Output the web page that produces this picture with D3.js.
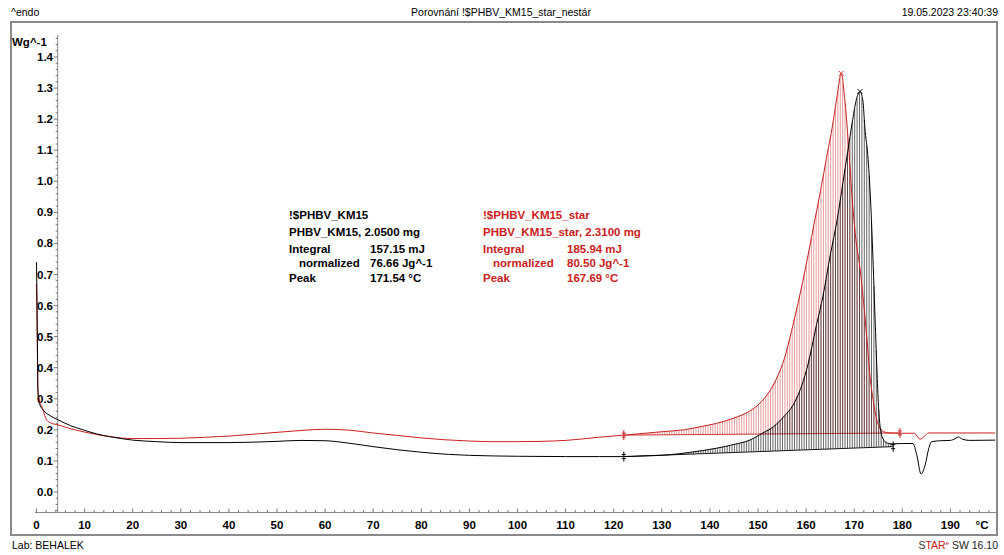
<!DOCTYPE html>
<html><head><meta charset="utf-8">
<script src="https://cdn.jsdelivr.net/npm/d3@7/dist/d3.min.js"></script>
<style>body{margin:0;background:#fff;overflow:hidden} text{font-family:"Liberation Sans",Arial,sans-serif}</style>
</head><body><svg id="c" width="1004" height="555"></svg>
<script>
// ---- data (temperature °C, heat flow Wg^-1) ----
const blackT=[0,0.15,0.3,0.6,1.4,3,4.5,7,9.7,12.5,15.3,20,25,30,40,50,55,60,65,70,75,80,85.7,90,100,110,117,122,126,131,136,141.4,145,148.3,151,153.2,155.5,157.3,158.8,160.1,162.2,163.5,165,166.5,167.7,168.7,169.6,170.4,171.2,171.8,172.2,172.9,173.4,173.9,174.4,175.1,175.8,176.9,178,180,182.2,183,183.9,184.8,185.5,186.1,188,190,191,191.7,192.5,194,199.3];
const blackV=[0.74,0.55,0.32,0.285,0.264,0.244,0.232,0.214,0.2,0.187,0.178,0.167,0.162,0.159,0.159,0.163,0.166,0.165,0.157,0.146,0.136,0.128,0.121,0.118,0.115,0.114,0.114,0.114,0.116,0.119,0.128,0.141,0.153,0.167,0.19,0.21,0.245,0.28,0.33,0.393,0.54,0.63,0.76,0.88,1.0,1.1,1.19,1.26,1.289,1.26,1.176,1.069,0.94,0.75,0.532,0.264,0.178,0.157,0.155,0.156,0.156,0.12,0.058,0.09,0.14,0.162,0.165,0.166,0.172,0.177,0.17,0.166,0.167];
const redT=[0,0.15,0.3,0.7,1.1,2.1,3,4.5,7,9.7,12.5,15.3,20,25,30,35,40,45,50,55,60,65,70,75,80,85,90,95,100,105,110,116.8,122.1,125,130,134.5,138,141.4,145,148,150,152,154,155.5,157,158.5,160,161.5,163,164.3,165.5,166.5,167.3,168,168.8,169.5,170.3,171.2,171.9,172.6,173.3,174,174.7,175.4,176.1,177.5,180,182.5,183.7,184.5,185.5,190,199.3];
const redV=[0.67,0.5,0.33,0.29,0.275,0.232,0.222,0.216,0.204,0.194,0.185,0.178,0.172,0.172,0.173,0.176,0.18,0.186,0.192,0.198,0.202,0.199,0.19,0.182,0.174,0.168,0.164,0.162,0.162,0.163,0.166,0.176,0.183,0.187,0.194,0.2,0.21,0.221,0.238,0.258,0.28,0.315,0.37,0.43,0.52,0.62,0.73,0.85,0.97,1.08,1.18,1.28,1.347,1.27,1.12,0.96,0.82,0.72,0.62,0.5,0.37,0.29,0.232,0.205,0.194,0.19,0.189,0.189,0.17,0.178,0.19,0.19,0.19];
// integration limits / baselines [tStart, vStart, tEnd, vEnd]
const blackBase=[122.1,0.114,178.1,0.146];
const redBase=[122.1,0.183,179.5,0.19];
const blackPeak=[171.2,1.289], redPeak=[167.3,1.347];
const xTickLabels=[0,10,20,30,40,50,60,70,80,90,100,110,120,130,140,150,160,170,180,190];
const yTickLabels=["0.0","0.1","0.2","0.3","0.4","0.5","0.6","0.7","0.8","0.9","1.0","1.1","1.2","1.3","1.4"];
const blackInfo=[["!$PHBV_KM15",""],["PHBV_KM15, 2.0500 mg",""],["Integral","157.15 mJ"],["  normalized","76.66 Jg^-1"],["Peak","171.54 °C"]];
const redInfo=[["!$PHBV_KM15_star",""],["PHBV_KM15_star, 2.3100 mg",""],["Integral","185.94 mJ"],["  normalized","80.50 Jg^-1"],["Peak","167.69 °C"]];

const RED="#cc2020", AX="#8c8c8c";
const svg=d3.select("#c");
const x=d3.scaleLinear().domain([0,200]).range([36.5,998.5]);
const y=d3.scaleLinear().domain([0,1.4]).range([492,57]);

// frame
svg.append("rect").attr("x",11).attr("y",22).attr("width",986).attr("height",513)
  .attr("fill","none").attr("stroke","#8a8a8a").attr("stroke-width",2);

// header & footer
svg.append("text").attr("x",11).attr("y",16).attr("font-size",10.5).text("^endo");
svg.append("text").attr("x",501).attr("y",16).attr("font-size",10.5).attr("text-anchor","middle").text("Porovnání !$PHBV_KM15_star_nestár");
svg.append("text").attr("x",998).attr("y",16).attr("font-size",10.5).attr("text-anchor","end").text("19.05.2023 23:40:39");
svg.append("text").attr("x",12).attr("y",549).attr("font-size",10.5).text("Lab: BEHALEK");
const ft=svg.append("text").attr("x",998).attr("y",549).attr("font-size",10.5).attr("text-anchor","end");
ft.append("tspan").attr("fill","#333").text("S");
ft.append("tspan").attr("fill",RED).text("TAR");
ft.append("tspan").attr("fill",RED).attr("font-size",6).attr("dy",-4).text("e");
ft.append("tspan").attr("fill","#222").attr("dy",4).text(" SW 16.10");

// axes
const yAxisX=57.7, xAxisY=512.5;
svg.append("line").attr("x1",35).attr("x2",997).attr("y1",xAxisY).attr("y2",xAxisY).attr("stroke",AX);
svg.append("line").attr("x1",yAxisX).attr("x2",yAxisX).attr("y1",35).attr("y2",xAxisY).attr("stroke",AX);
for(let t=0;t<=198;t+=2){
  const maj=t%10===0;
  svg.append("line").attr("x1",x(t)).attr("x2",x(t)).attr("y1",xAxisY).attr("y2",xAxisY-(maj?4:2.5)).attr("stroke","#555").attr("stroke-width",0.8);
}
xTickLabels.forEach(t=>svg.append("text").attr("x",x(t)).attr("y",529).attr("font-size",11.5).attr("font-weight","bold").attr("text-anchor","middle").text(t));
svg.append("text").attr("x",982).attr("y",529).attr("font-size",11.5).attr("font-weight","bold").attr("text-anchor","middle").text("°C");
for(let i=-3;i<=73;i++){
  const v=i*0.02, maj=i%5===0;
  svg.append("line").attr("x1",yAxisX).attr("x2",yAxisX-(maj?4:2)).attr("y1",y(v)).attr("y2",y(v)).attr("stroke","#555").attr("stroke-width",0.8);
}
yTickLabels.forEach(s=>svg.append("text").attr("x",53).attr("y",y(+s)+4).attr("font-size",11.5).attr("font-weight","bold").attr("text-anchor","end").text(s));
svg.append("text").attr("x",12).attr("y",46).attr("font-size",11.5).attr("font-weight","bold").text("Wg^-1");

// helpers
function interp(T,V,t){const i=d3.bisectRight(T,t);if(i<=0)return V[0];if(i>=T.length)return V[V.length-1];const f=(t-T[i-1])/(T[i]-T[i-1]);return V[i-1]+f*(V[i]-V[i-1]);}
function base(b,t){return b[1]+(t-b[0])/(b[2]-b[0])*(b[3]-b[1]);}
function hatch(T,V,b,col,op){
  const g=svg.append("g");
  for(let t=b[0];t<=b[2];t+=0.5){
    const v=interp(T,V,t), bv=base(b,t);
    if(v>bv) g.append("line").attr("x1",x(t)).attr("x2",x(t)).attr("y1",y(bv)).attr("y2",y(v)).attr("stroke",col).attr("stroke-width",0.8).attr("opacity",op);
  }
  svg.append("line").attr("x1",x(b[0])).attr("x2",x(b[2])).attr("y1",y(b[1])).attr("y2",y(b[3])).attr("stroke",col).attr("stroke-width",0.9);
}
function mark(t,v,col){
  const g=svg.append("g").attr("stroke",col).attr("stroke-width",1);
  g.append("line").attr("x1",x(t)).attr("x2",x(t)).attr("y1",y(v)-5).attr("y2",y(v)+5);
  g.append("line").attr("x1",x(t)-2).attr("x2",x(t)+2).attr("y1",y(v)-2).attr("y2",y(v)-2);
  g.append("line").attr("x1",x(t)-2).attr("x2",x(t)+2).attr("y1",y(v)+2).attr("y2",y(v)+2);
}
function peak(p,col){
  const cx=x(p[0]),cy=y(p[1]);
  svg.append("path").attr("d",`M${cx-2.5},${cy-2.5}L${cx+2.5},${cy+2.5}M${cx-2.5},${cy+2.5}L${cx+2.5},${cy-2.5}`).attr("stroke",col).attr("stroke-width",0.9);
}

hatch(redT,redV,redBase,RED,0.55);
hatch(blackT,blackV,blackBase,"#000",0.75);

const line=d3.line().curve(d3.curveMonotoneX);
svg.append("path").attr("d",line(redT.map((t,i)=>[x(t),y(redV[i])]))).attr("fill","none").attr("stroke",RED).attr("stroke-width",1);
svg.append("path").attr("d",line(blackT.map((t,i)=>[x(t),y(blackV[i])]))).attr("fill","none").attr("stroke","#000").attr("stroke-width",1);

mark(redBase[0],redBase[1],RED); mark(redBase[2],redBase[3],RED);
mark(blackBase[0],blackBase[1],"#000"); mark(blackBase[2],blackBase[3],"#000");
peak(redPeak,RED); peak(blackPeak,"#000");

// annotation blocks
const rowsY=[219,235.5,253,267,282];
function info(rows,x0,xv,col){
  rows.forEach((r,i)=>{
    svg.append("text").attr("x",x0+(r[0].startsWith("  ")?10:0)).attr("y",rowsY[i]).attr("font-size",11.5).attr("font-weight","bold").attr("fill",col).text(r[0].trim());
    if(r[1]) svg.append("text").attr("x",xv).attr("y",rowsY[i]).attr("font-size",11.5).attr("font-weight","bold").attr("fill",col).text(r[1]);
  });
}
info(blackInfo,289,370,"#000");
info(redInfo,483,567,RED);
</script></body></html>
